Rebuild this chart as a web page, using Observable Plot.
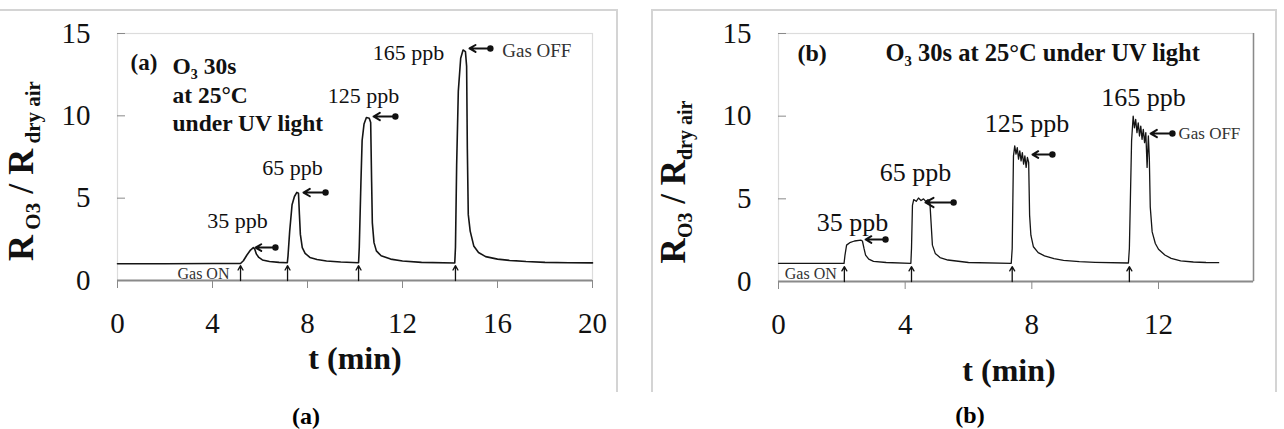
<!DOCTYPE html>
<html>
<head>
<meta charset="utf-8">
<script src="https://cdn.jsdelivr.net/npm/d3@7"></script>
<script src="https://cdn.jsdelivr.net/npm/@observablehq/plot@0.6"></script>
<style>
  html, body { margin: 0; padding: 0; background: #fff; }
  body { width: 1284px; height: 429px; position: relative; overflow: hidden; font-family: "Liberation Serif", "Times New Roman", serif; }
  .box { position: absolute; top: 9px; height: 383px; border-top: 2px solid #d4d4d4; box-sizing: border-box; }
  #boxA { left: -4px; width: 622px; border-right: 2px solid #d4d4d4; }
  #boxB { left: 651px; width: 626px; border-left: 2px solid #d4d4d4; border-right: 2px solid #d4d4d4; }
  .plot { position: absolute; top: 0; }
  #plotA { left: 0; }
  #plotB { left: 652px; }
  .cap { position: absolute; font-weight: bold; font-size: 24px; transform: translate(-50%, -50%); white-space: nowrap; }
  svg g[aria-label="x-axis tick"], svg g[aria-label="y-axis tick"] { stroke: #8a8a8a; }
  text.ytitle { white-space: pre; }
</style>
</head>
<body>
<div id="boxA" class="box"></div>
<div id="boxB" class="box"></div>
<div id="plotA" class="plot"></div>
<div id="plotB" class="plot"></div>
<div class="cap" style="left:306px; top:416px;">(a)</div>
<div class="cap" style="left:970px; top:415px;">(b)</div>
<script>
// ---------- Panel (a): sensor response, 0–20 min ----------
const tA = [0, 2, 4, 5.18, 5.3, 5.45, 5.6, 5.72, 5.78, 5.85, 5.95, 6.1, 6.4, 6.8, 7.15,
  7.18, 7.25, 7.35, 7.45, 7.55, 7.62, 7.66, 7.7, 7.78, 7.9, 8.1, 8.4, 8.8, 9.4, 10.15,
  10.18, 10.25, 10.3, 10.38, 10.48, 10.6, 10.66, 10.7, 10.73, 10.8, 10.9, 11.1, 11.5, 12, 12.8, 14.2,
  14.23, 14.28, 14.35, 14.45, 14.55, 14.65, 14.7, 14.73, 14.77, 14.85, 15.0, 15.2, 15.5, 16, 16.5, 17.2, 18, 19, 20];
const rA = [1.02, 1.02, 1.03, 1.03, 1.2, 1.55, 1.85, 2.0, 1.9, 1.6, 1.4, 1.25, 1.15, 1.1, 1.08,
  1.5, 3.0, 4.6, 5.1, 5.35, 5.3, 4.0, 2.8, 2.0, 1.65, 1.4, 1.28, 1.18, 1.12, 1.08,
  2.0, 6.0, 8.5, 9.5, 9.9, 9.85, 9.6, 6.0, 3.5, 2.3, 1.8, 1.5, 1.3, 1.18, 1.1, 1.06,
  2.0, 7.0, 11.5, 13.5, 14.0, 13.9, 13.0, 8.0, 4.0, 3.0, 2.1, 1.7, 1.45, 1.3, 1.22, 1.15, 1.1, 1.08, 1.07];

// ---------- Panel (b): sensor response, 0–14 min ----------
const tB = [0, 1, 2.07, 2.1, 2.15, 2.25, 2.4, 2.6, 2.65, 2.7, 2.75, 2.85, 3.0, 3.4, 4.18,
  4.2, 4.23, 4.27, 4.35, 4.42, 4.5, 4.58, 4.65, 4.72, 4.78, 4.82, 4.86, 4.95, 5.1, 5.35, 6.0, 7.35,
  7.38, 7.42, 7.46, 7.5, 7.54, 7.58, 7.62, 7.66, 7.7, 7.74, 7.78, 7.82, 7.86, 7.9, 7.93, 7.97, 8.05, 8.2, 8.4, 8.7, 9.0, 9.5, 10, 11.05,
  11.08, 11.15, 11.2, 11.24, 11.28, 11.32, 11.36, 11.4, 11.44, 11.48, 11.52, 11.56, 11.6, 11.64, 11.68, 11.71, 11.74, 11.8, 11.9, 12.0, 12.2, 12.4, 12.7, 13.1, 13.5, 13.9];
const rB = [1.1, 1.1, 1.1, 1.6, 2.2, 2.35, 2.45, 2.5, 2.45, 2.0, 1.6, 1.35, 1.22, 1.15, 1.1,
  2.0, 4.6, 4.95, 4.85, 5.05, 4.9, 5.0, 4.85, 4.95, 4.8, 3.5, 2.2, 1.7, 1.45, 1.3, 1.15, 1.1,
  2.0, 7.6, 8.2, 7.7, 8.1, 7.4, 7.9, 7.3, 7.8, 7.1, 7.6, 6.9, 7.5, 7.2, 4.0, 2.8, 2.1, 1.75, 1.55, 1.38, 1.28, 1.2, 1.16, 1.12,
  2.0, 8.5, 10.0, 9.3, 9.8, 9.0, 9.6, 8.8, 9.4, 8.6, 9.2, 8.4, 9.0, 6.9, 8.8, 7.5, 4.5, 3.0, 2.3, 1.95, 1.6, 1.4, 1.25, 1.18, 1.15, 1.14];

// ---------- axes ----------
const xTicksA = [0, 4, 8, 12, 16, 20];
const xTicksB = [0, 4, 8, 12];
const yTicks = [0, 5, 10, 15];

// ---------- annotations ----------
const concLabels = ["35 ppb", "65 ppb", "125 ppb", "165 ppb"];
const concTA = [5.05, 7.37, 10.36, 12.25];
const concVA = [3.64, 6.86, 11.23, 13.84];
const concTB = [2.34, 4.33, 7.85, 11.53];
const concVB = [3.57, 6.6, 9.56, 11.13];

const gasOnA = [5.18, 7.16, 10.15, 14.23];
const gasOnB = [2.08, 4.2, 7.38, 11.08];

const offTipA = [5.81, 7.83, 10.78, 14.82];
const offDotA = [6.65, 8.76, 11.7, 15.7];
const offValA = [2.0, 5.34, 9.96, 14.09];
const offTipB = [2.75, 4.64, 8.02, 11.75];
const offDotB = [3.38, 5.53, 8.65, 12.44];
const offValB = [2.54, 4.78, 7.68, 8.95];

const gasOffTextA = {t: 16.2, v: 13.96};
const gasOffTextB = {t: 12.63, v: 8.95};
const gasOnTextA = {t: 3.62, v: 0.42};
const gasOnTextB = {t: 1.02, v: 0.48};

const FONT = "Liberation Serif";

function seriesRows(ts, vs) { return ts.map((t, i) => ({t, v: vs[i]})); }
function concRows(ts, vs) { return concLabels.map((s, i) => ({s, t: ts[i], v: vs[i]})); }
function offRows(a, b, v) { return a.map((t, i) => ({tip: t, dot: b[i], v: v[i]})); }

function panel(opts) {
  const {width, height, mL, mR, mT, mB, xDomain, xTicks, rows, lineW, conc, concSize, gasOn, off,
         offText, offSize, onText, titleMarks, xTitleDy, xTitleDx, rightEdge} = opts;
  return Plot.plot({
    width, height,
    marginLeft: mL, marginRight: mR, marginTop: mT, marginBottom: mB,
    style: {fontFamily: FONT, background: "transparent", color: "#111"},
    x: {domain: xDomain, label: null},
    y: {domain: [0, 15], label: null},
    marks: [
      Plot.frame({stroke: "#dcdcdc", strokeWidth: 1.2}),
      rightEdge ? Plot.ruleX([xDomain[1]], {stroke: "#8a8a8a", strokeWidth: 1.5}) : null,
      Plot.ruleY([0], {stroke: "#8a8a8a", strokeWidth: 1.8}),
      Plot.axisX({ticks: xTicks, tickSize: 8, tickPadding: 24, fontSize: 29, label: null}),
      Plot.axisY({ticks: yTicks, tickSize: 0, tickPadding: 27, fontSize: 29, label: null}),
      Plot.axisY({ticks: yTicks, tickSize: 8, dx: 8, tickFormat: () => "", label: null}),
      Plot.line(rows, {x: "t", y: "v", stroke: "#151515", strokeWidth: lineW}),
      Plot.arrow(gasOn, {x1: d => d, x2: d => d, y1: 0, y2: 0.9, stroke: "#111", strokeWidth: 1.3, headLength: 6}),
      Plot.arrow(off, {x1: "dot", x2: "tip", y1: "v", y2: "v", stroke: "#111", strokeWidth: 2, headLength: 7}),
      Plot.dot(off, {x: "dot", y: "v", r: 3.2, fill: "#111"}),
      Plot.text(conc, {x: "t", y: "v", text: "s", fontSize: concSize, fill: "#111"}),
      Plot.text([offText], {x: "t", y: "v", text: () => "Gas OFF", fontSize: offSize, textAnchor: "start", fill: "#333"}),
      Plot.text([onText], {x: "t", y: "v", text: () => "Gas ON", fontSize: 16, fill: "#333"}),
      ...titleMarks,
      Plot.text(["t (min)"], {frameAnchor: "bottom", dy: xTitleDy, dx: xTitleDx, fontSize: 32, fontWeight: "bold", fill: "#111"})
    ]
  });
}

const plotA = panel({
  width: 616, height: 392, mL: 117, mR: 24, mT: 33, mB: 112,
  xDomain: [0, 20], xTicks: xTicksA, rows: seriesRows(tA, rA), lineW: 1.6,
  conc: concRows(concTA, concVA), concSize: 22,
  gasOn: gasOnA, off: offRows(offTipA, offDotA, offValA),
  offText: gasOffTextA, offSize: 19, onText: gasOnTextA,
  xTitleDy: 88, xTitleDx: 0, rightEdge: false,
  titleMarks: [
    Plot.text(["(a)"], {frameAnchor: "top-left", dx: 13, dy: 20, lineAnchor: "top", fontSize: 23, fontWeight: "bold", fill: "#111"}),
    Plot.text(["O\u2083 30s\nat 25°C\nunder UV light"], {frameAnchor: "top-left", dx: 55, dy: 20, lineAnchor: "top", lineHeight: 1.22, fontSize: 23.5, fontWeight: "bold", fill: "#111"})
  ]
});

const plotB = panel({
  width: 623, height: 392, mL: 126, mR: 22, mT: 33, mB: 111,
  xDomain: [0, 15], xTicks: xTicksB, rows: seriesRows(tB, rB), lineW: 1.3,
  conc: concRows(concTB, concVB), concSize: 26,
  gasOn: gasOnB, off: offRows(offTipB, offDotB, offValB),
  offText: gasOffTextB, offSize: 17, onText: gasOnTextB,
  xTitleDy: 99, xTitleDx: -7, rightEdge: true,
  titleMarks: [
    Plot.text(["(b)"], {frameAnchor: "top-left", dx: 19, dy: 10, lineAnchor: "top", fontSize: 24, fontWeight: "bold", fill: "#111"}),
    Plot.text(["O\u2083 30s at 25°C under UV light"], {frameAnchor: "top-left", dx: 107, dy: 10, lineAnchor: "top", fontSize: 24.5, fontWeight: "bold", fill: "#111"})
  ]
});

document.getElementById("plotA").append(plotA);
document.getElementById("plotB").append(plotB);

// y-axis titles with subscripts (real SVG text)
function yTitle(svg, x, y, main, sub, withSpace) {
  const t = d3.select(svg).append("text")
    .attr("class", "ytitle")
    .attr("xml:space", "preserve")
    .attr("transform", `translate(${x},${y}) rotate(-90)`)
    .attr("text-anchor", "middle")
    .attr("font-family", FONT)
    .attr("font-weight", "bold")
    .attr("font-size", main)
    .attr("fill", "#111");
  const sp = withSpace ? "\u00a0" : "";
  t.append("tspan").text("R");
  t.append("tspan").attr("font-size", sub).attr("dy", 7).text(sp + "O3");
  t.append("tspan").attr("dy", -7).text(" / R");
  t.append("tspan").attr("font-size", sub).attr("dy", 7).text(sp + "dry air");
}
yTitle(plotA, 33, 171, 36, 21, true);
yTitle(plotB, 33, 182, 35, 20, false);
</script>
</body>
</html>
